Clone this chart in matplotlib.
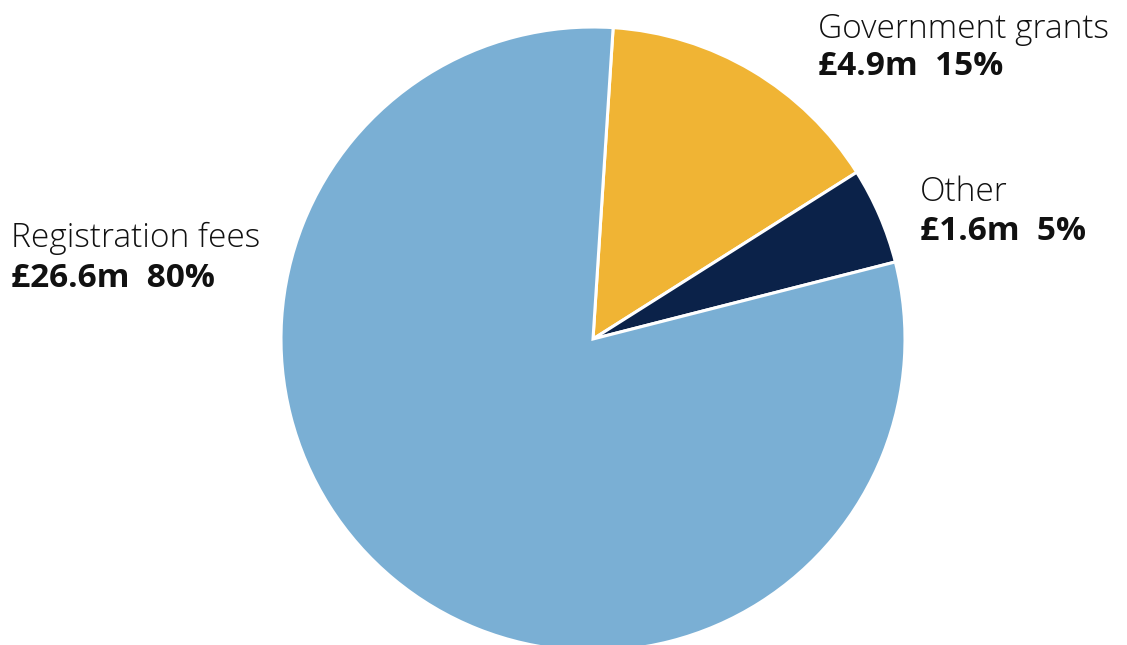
import matplotlib.pyplot as plt

# slice data (clockwise from the top)
labels = ["Government grants", "Other", "Registration fees"]
amounts = ["£4.9m", "£1.6m", "£26.6m"]
percents = [15, 5, 80]
colors = ["#f0b434", "#0b2249", "#7aafd4"]

W, H = 1127, 645
fig = plt.figure(figsize=(W / 100, H / 100), dpi=100)

# pie centre (593, 339) px, radius 312 px
cx, cy, r = 593, 339, 312
ax = fig.add_axes([(cx - r) / W, (H - cy - r) / H, 2 * r / W, 2 * r / H])
ax.pie(percents, colors=colors, startangle=86.3, counterclock=False,
       radius=1, wedgeprops=dict(edgecolor="white", linewidth=2.2))
ax.set_xlim(-1, 1)
ax.set_ylim(-1, 1)
ax.set_aspect("equal")
ax.axis("off")

# label positions in px: x, baseline of name, baseline of value
label_pos = [(818, 37.5, 75), (920, 201, 240), (11, 247, 287)]

for (x, y1, y2), name, amt, pct in zip(label_pos, labels, amounts, percents):
    fig.text(x / W, 1 - y1 / H, name, fontsize=24, family="Open Sans",
             fontweight="light", color="#111111", va="baseline", ha="left")
    fig.text(x / W, 1 - y2 / H, "{}  {}%".format(amt, pct), fontsize=24,
             family="Open Sans", fontweight="bold", color="#111111",
             va="baseline", ha="left")

fig.savefig("out.png", dpi=100)
